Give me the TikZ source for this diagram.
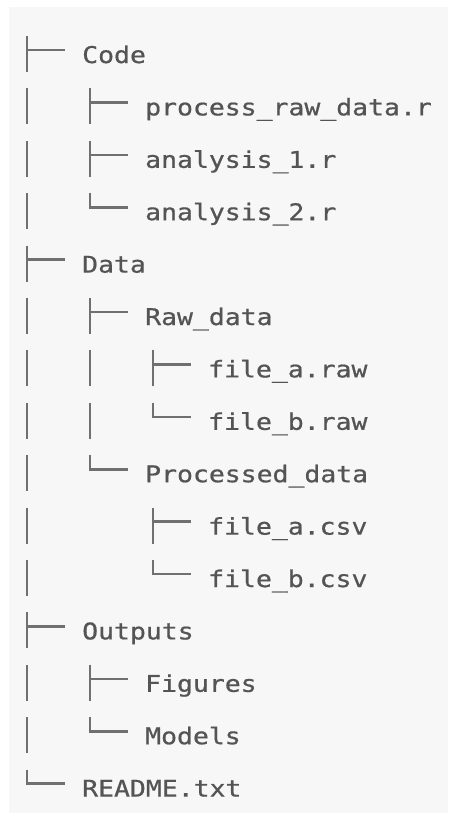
\documentclass[tikz,border=0pt]{standalone}
\usepackage{fontspec}
\setmonofont[FakeStretch=1.15, FakeBold=0.7]{DejaVu Sans Mono}
\usepackage{tikz}
\usetikzlibrary{calc, positioning}
\usepackage{xcolor}

\definecolor{PanelGray}{RGB}{247,247,247}
\definecolor{TextGray}{RGB}{84,84,84}
\definecolor{TreeGray}{RGB}{112,112,112}

\tikzset{
  entry/.style={anchor=base west, inner sep=0pt, text=TextGray,
    font=\ttfamily\fontsize{23}{28}\selectfont},
  treeline/.style={draw=TreeGray, line width=2.6pt}
}

% glyphs of the tree, placed from the entry they belong to
\newcommand{\tee}[1]{%
  \draw[treeline] ($(#1.base west)+(-55pt,27pt)$) -- ($(#1.base west)+(-55pt,-9pt)$);
  \draw[treeline] ($(#1.base west)+(-55pt,13pt)$) -- ($(#1.base west)+(-17pt,13pt)$);}
\newcommand{\elbow}[1]{%
  \draw[treeline] ($(#1.base west)+(-55pt,27pt)$) -- ($(#1.base west)+(-55pt,13pt)$)
    -- ($(#1.base west)+(-17pt,13pt)$);}
\newcommand{\pipe}[2]{%
  \draw[treeline] ($(#1.base west)+(-55pt-#2*63pt,27pt)$) -- ($(#1.base west)+(-55pt-#2*63pt,-9pt)$);}

\begin{document}
\begin{tikzpicture}
\useasboundingbox (0,0) rectangle (448pt,-820pt);
\fill[PanelGray] (9pt,-7pt) rectangle (448pt,-813pt);

% entries
\node[entry] (code)   at (82pt,-63pt)    {Code};
\node[entry] (proc)   at (145pt,-115.4pt) {process\_raw\_data.r};
\node[entry] (anaone) at (145pt,-167.8pt) {analysis\_1.r};
\node[entry] (anatwo) at (145pt,-220.2pt) {analysis\_2.r};
\node[entry] (data)   at (82pt,-272.6pt)  {Data};
\node[entry] (raw)    at (145pt,-325pt)   {Raw\_data};
\node[entry] (rawa)   at (208pt,-377.4pt) {file\_a.raw};
\node[entry] (rawb)   at (208pt,-429.8pt) {file\_b.raw};
\node[entry] (prc)    at (145pt,-482.2pt) {Processed\_data};
\node[entry] (csva)   at (208pt,-534.6pt) {file\_a.csv};
\node[entry] (csvb)   at (208pt,-587pt)   {file\_b.csv};
\node[entry] (outs)   at (82pt,-639.4pt)  {Outputs};
\node[entry] (figs)   at (145pt,-691.8pt) {Figures};
\node[entry] (mods)   at (145pt,-744.2pt) {Models};
\node[entry] (readme) at (82pt,-796.6pt)  {README.txt};

% tree
\tee{code}
\pipe{proc}{1} \tee{proc}
\pipe{anaone}{1} \tee{anaone}
\pipe{anatwo}{1} \elbow{anatwo}
\tee{data}
\pipe{raw}{1} \tee{raw}
\pipe{rawa}{2} \pipe{rawa}{1} \tee{rawa}
\pipe{rawb}{2} \pipe{rawb}{1} \elbow{rawb}
\pipe{prc}{1} \elbow{prc}
\pipe{csva}{2} \tee{csva}
\pipe{csvb}{2} \elbow{csvb}
\tee{outs}
\pipe{figs}{1} \tee{figs}
\pipe{mods}{1} \elbow{mods}
\elbow{readme}
\end{tikzpicture}
\end{document}
